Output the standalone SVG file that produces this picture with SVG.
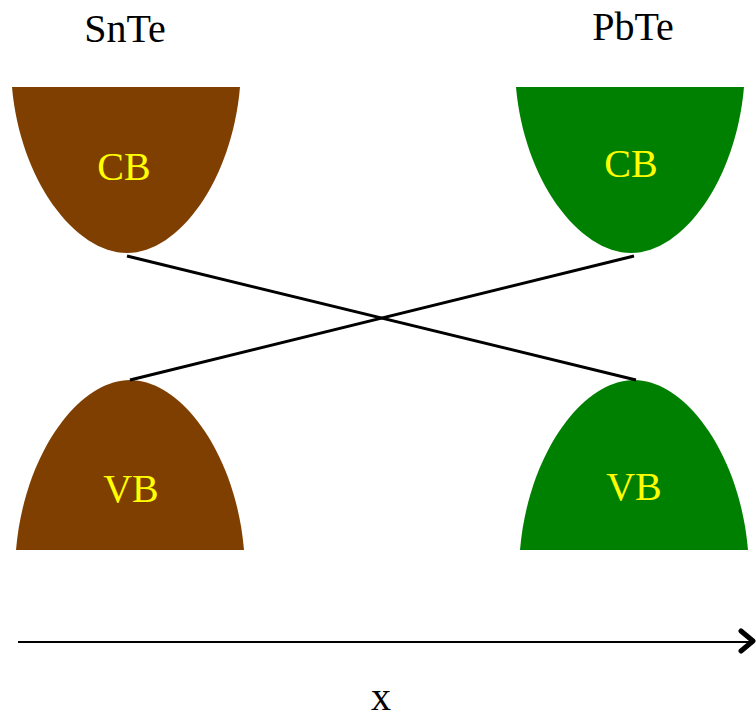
<svg xmlns="http://www.w3.org/2000/svg" width="756" height="719" viewBox="0 0 756 719">
<style>
.lbl{font-family:"Liberation Serif","Times New Roman",serif;font-size:40px;fill:#000;text-anchor:middle}
.band{font-family:"Liberation Serif","Times New Roman",serif;font-size:40px;fill:#FFFF00;text-anchor:middle}
.sn{fill:#7F3F00}
.pb{fill:#008000}
.con{stroke:#000;stroke-width:3;fill:none}
</style>
<defs>
<path id="cbShape" d="M12,87 C20,180 75,253 127,253 C179,253 232,180 240,87 Z"/>
<path id="vbShape" d="M16,550 C24,455 78,380 130,380 C182,380 236,455 244,550 Z"/>
</defs>
<rect width="756" height="719" fill="#fff"/>
<text class="lbl" x="125" y="42">SnTe</text>
<text class="lbl" x="633" y="40">PbTe</text>
<g id="snte-cb">
<use href="#cbShape" class="sn"/>
<text class="band" x="124" y="180">CB</text>
</g>
<g id="pbte-cb">
<use href="#cbShape" class="pb" transform="translate(504,0)"/>
<text class="band" x="631" y="177">CB</text>
</g>
<g id="snte-vb">
<use href="#vbShape" class="sn"/>
<text class="band" x="131" y="502">VB</text>
</g>
<g id="pbte-vb">
<use href="#vbShape" class="pb" transform="translate(504,0)"/>
<text class="band" x="634" y="500">VB</text>
</g>
<g id="connectors">
<line class="con" x1="127" y1="256" x2="636" y2="380"/>
<line class="con" x1="130" y1="380" x2="634" y2="256"/>
<line stroke="#000" stroke-width="2" x1="18" y1="642" x2="752" y2="642"/>
<polyline stroke="#000" stroke-width="5" fill="none" stroke-linecap="round" stroke-linejoin="round" points="741,631 753,641 741,651"/>
</g>
<text class="lbl" x="381" y="710">x</text>
</svg>
